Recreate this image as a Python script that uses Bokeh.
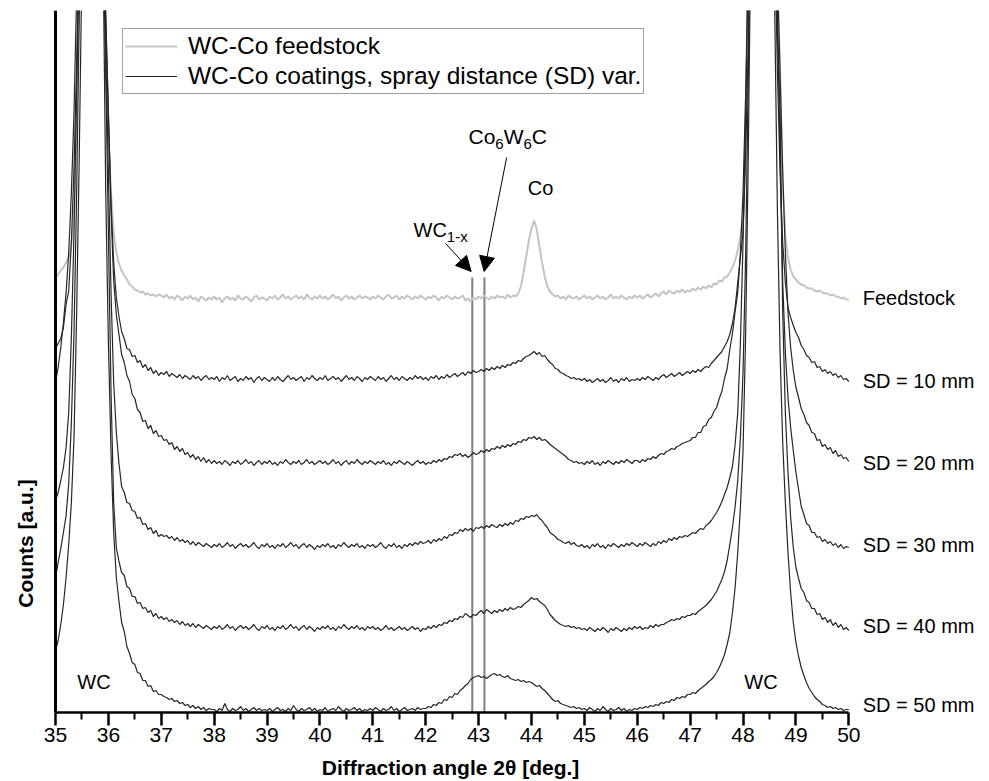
import numpy as np
from math import pi
from bokeh.plotting import figure
from bokeh.models import (Range1d, LinearAxis, FixedTicker, Label, Arrow, NormalHead,
                          Legend, LegendItem)
from bokeh.core.properties import value
from bokeh.embed import file_html
from bokeh.resources import INLINE

# ---------------- data ----------------
two_theta = np.round(np.arange(35.0, 50.0001, 0.05), 2)   # 301 scan steps

feedstock = [
    435, 438, 442, 445, 450, 455, 466, 500, 610, 720, 900, 1300, 2000, 3000, 3200, 2500, 1500, 1000, 780, 660,
    575, 520, 480, 460, 449, 442, 437, 433, 428, 426, 423, 422, 420, 421, 418, 419, 417, 418, 416, 418,
    417, 415, 418, 414, 416, 413, 417, 415, 412, 416, 414, 417, 413, 415, 411, 416, 414, 412, 415, 413,
    416, 413, 415, 410, 414, 416, 413, 415, 412, 417, 414, 413, 416, 414, 411, 415, 417, 413, 415, 414,
    412, 416, 414, 417, 413, 415, 418, 414, 416, 413, 415, 417, 414, 416, 413, 418, 415, 413, 416, 414,
    417, 414, 416, 413, 415, 418, 414, 416, 412, 415, 417, 414, 416, 413, 415, 417, 414, 416, 415, 413,
    416, 414, 417, 415, 413, 416, 418, 414, 415, 417, 413, 416, 414, 417, 415, 413, 416, 414, 417, 415,
    413, 416, 414, 417, 415, 412, 416, 414, 417, 415, 413, 416, 414, 415, 417, 412, 414, 411, 415, 413,
    416, 414, 417, 415, 413, 416, 414, 417, 415, 416, 414, 418, 415, 417, 416, 419, 426, 440, 456, 472,
    484, 492, 483, 466, 450, 436, 426, 421, 418, 416, 417, 414, 416, 413, 417, 415, 414, 416, 413, 415,
    417, 414, 416, 413, 415, 417, 414, 416, 413, 415, 418, 414, 416, 414, 417, 415, 413, 416, 414, 417,
    415, 417, 414, 416, 418, 415, 417, 419, 416, 419, 421, 418, 422, 420, 419, 422, 420, 423, 420, 422,
    421, 424, 422, 425, 423, 426, 424, 427, 425, 429, 428, 432, 431, 435, 436, 440, 445, 452, 462, 476,
    495, 560, 690, 880, 1300, 2000, 2800, 3200, 2800, 2000, 1400, 1000, 820, 730, 640, 530, 475, 455, 443, 436,
    433, 430, 428, 427, 425, 424, 424, 422, 421, 422, 420, 419, 419, 417, 418, 416, 416, 414, 415, 413,
    413]

sd10 = [
    364, 369, 374, 385, 408, 422, 470, 545, 650, 790, 1000, 1500, 2300, 3000, 3100, 2600, 1700, 1100, 800, 690,
    600, 510, 450, 415, 396, 381, 374, 364, 363, 356, 357, 350, 352, 345, 348, 342, 345, 339, 342, 337,
    340, 338, 341, 336, 339, 337, 335, 338, 334, 337, 335, 333, 337, 334, 336, 332, 335, 337, 333, 335,
    333, 336, 331, 335, 333, 337, 332, 334, 336, 331, 334, 332, 336, 333, 335, 330, 334, 336, 332, 335,
    333, 331, 335, 332, 336, 333, 331, 334, 337, 333, 335, 332, 334, 336, 331, 335, 333, 337, 334, 332,
    335, 333, 337, 332, 334, 336, 333, 335, 331, 334, 337, 333, 335, 332, 336, 334, 331, 335, 333, 336,
    334, 332, 336, 333, 335, 331, 334, 337, 333, 335, 332, 336, 334, 332, 335, 333, 337, 334, 336, 333,
    335, 332, 336, 334, 337, 333, 336, 334, 338, 335, 337, 339, 336, 338, 340, 337, 341, 339, 342, 340,
    341, 343, 341, 344, 342, 345, 343, 346, 344, 347, 345, 348, 347, 350, 349, 352, 351, 354, 356, 357,
    359, 361, 358, 360, 356, 357, 353, 350, 348, 344, 343, 340, 339, 337, 336, 334, 335, 333, 334, 332,
    334, 331, 333, 330, 332, 334, 331, 333, 330, 332, 335, 331, 333, 330, 334, 332, 335, 331, 333, 332,
    334, 332, 335, 333, 336, 334, 332, 335, 333, 336, 338, 335, 337, 339, 336, 338, 340, 337, 339, 341,
    339, 342, 340, 343, 341, 344, 346, 345, 349, 352, 355, 358, 361, 366, 371, 378, 389, 405, 430, 455,
    480, 560, 670, 820, 1100, 1700, 2500, 3100, 3000, 2200, 1500, 1000, 780, 640, 540, 470, 430, 405, 395, 387,
    380, 375, 367, 363, 357, 355, 350, 351, 345, 346, 341, 343, 339, 341, 337, 339, 335, 337, 333, 334,
    331]

sd20 = [
    330, 345, 365, 390, 420, 460, 520, 600, 720, 900, 1200, 1800, 2600, 3100, 3000, 2400, 1600, 1100, 820, 700,
    600, 500, 432, 398, 378, 358, 350, 337, 331, 318, 314, 303, 300, 291, 292, 284, 287, 279, 282, 276,
    277, 272, 273, 268, 270, 263, 266, 261, 264, 258, 260, 255, 258, 253, 256, 251, 255, 250, 253, 249,
    252, 249, 251, 248, 252, 250, 247, 251, 249, 252, 248, 250, 253, 249, 251, 247, 250, 252, 248, 251,
    249, 252, 248, 250, 247, 251, 249, 253, 250, 248, 251, 249, 252, 248, 250, 253, 249, 251, 248, 250,
    252, 249, 251, 248, 250, 253, 249, 251, 247, 250, 252, 248, 251, 249, 253, 250, 248, 251, 249, 252,
    250, 248, 251, 249, 252, 248, 250, 247, 251, 249, 252, 250, 248, 251, 249, 247, 250, 252, 249, 251,
    248, 250, 249, 252, 250, 253, 251, 254, 253, 256, 255, 258, 257, 259, 256, 258, 255, 257, 260, 258,
    259, 262, 260, 263, 261, 264, 263, 266, 264, 267, 265, 268, 266, 269, 268, 271, 270, 273, 272, 275,
    274, 276, 273, 275, 272, 273, 271, 268, 266, 264, 262, 260, 258, 256, 253, 252, 250, 251, 249, 250,
    248, 251, 249, 252, 248, 250, 247, 251, 249, 252, 250, 248, 251, 249, 252, 250, 253, 251, 249, 252,
    252, 250, 253, 251, 254, 253, 256, 254, 257, 259, 258, 261, 262, 264, 263, 266, 267, 269, 270, 271,
    272, 275, 275, 280, 280, 286, 287, 293, 295, 301, 305, 314, 321, 334, 344, 363, 379, 401, 420, 460,
    520, 620, 760, 1000, 1500, 2300, 3000, 3200, 2800, 2000, 1400, 1000, 850, 740, 640, 540, 460, 400, 365, 342,
    325, 315, 304, 298, 290, 287, 280, 279, 272, 273, 266, 268, 263, 265, 259, 262, 256, 258, 254, 255,
    251]

sd30 = [
    212, 220, 232, 245, 265, 300, 375, 480, 620, 760, 1000, 1500, 2300, 3000, 3100, 2500, 1600, 1050, 780, 660,
    540, 420, 330, 280, 249, 226, 220, 210, 209, 202, 201, 194, 195, 188, 189, 183, 185, 179, 182, 176,
    178, 176, 177, 174, 176, 172, 175, 171, 173, 170, 172, 168, 171, 167, 170, 168, 166, 169, 167, 165,
    168, 166, 169, 165, 167, 170, 166, 168, 164, 167, 169, 166, 168, 165, 167, 170, 166, 164, 168, 166,
    169, 165, 167, 164, 168, 166, 169, 165, 167, 170, 166, 168, 164, 167, 169, 165, 168, 166, 163, 167,
    165, 168, 166, 169, 165, 167, 164, 168, 166, 170, 167, 165, 168, 166, 169, 165, 167, 164, 168, 166,
    168, 165, 167, 170, 166, 164, 168, 166, 169, 165, 167, 164, 168, 166, 169, 167, 170, 168, 171, 169,
    170, 172, 169, 173, 171, 174, 172, 176, 174, 178, 177, 180, 179, 183, 181, 184, 182, 184, 181, 185,
    184, 186, 184, 187, 185, 188, 186, 185, 188, 186, 189, 187, 190, 188, 192, 191, 194, 193, 196, 195,
    197, 196, 198, 194, 192, 188, 185, 180, 178, 176, 173, 172, 170, 169, 171, 168, 170, 167, 166, 168,
    165, 167, 164, 168, 166, 169, 165, 167, 164, 168, 166, 169, 167, 165, 168, 166, 169, 167, 170, 168,
    166, 169, 167, 170, 168, 166, 169, 167, 171, 169, 172, 170, 174, 172, 175, 173, 176, 175, 177, 176,
    178, 180, 179, 182, 184, 183, 187, 189, 192, 196, 200, 205, 211, 218, 225, 235, 246, 268, 300, 370,
    470, 600, 760, 1000, 1500, 2300, 3000, 3200, 2800, 2000, 1400, 1000, 800, 700, 560, 430, 360, 315, 285, 262,
    240, 223, 206, 198, 189, 187, 180, 180, 175, 176, 171, 173, 169, 171, 167, 169, 165, 168, 164, 166,
    165]

sd40 = [
    135, 150, 164, 180, 197, 229, 290, 380, 520, 700, 950, 1400, 2200, 3000, 3100, 2500, 1600, 1050, 780, 640,
    480, 320, 210, 165, 151, 140, 137, 126, 124, 116, 116, 109, 110, 104, 105, 100, 102, 96, 99, 94,
    96, 93, 95, 91, 93, 90, 92, 88, 91, 87, 89, 86, 89, 85, 88, 86, 84, 87, 85, 83,
    86, 84, 87, 83, 85, 88, 84, 86, 82, 85, 87, 84, 86, 83, 85, 88, 84, 82, 86, 84,
    87, 83, 85, 82, 86, 84, 87, 83, 85, 88, 84, 86, 82, 85, 87, 83, 86, 84, 81, 85,
    83, 86, 84, 87, 83, 85, 82, 86, 84, 88, 85, 83, 86, 84, 87, 83, 85, 82, 86, 84,
    86, 83, 85, 82, 84, 87, 83, 85, 82, 84, 86, 83, 85, 82, 84, 86, 83, 85, 81, 84,
    83, 86, 84, 87, 85, 88, 87, 90, 89, 92, 91, 94, 93, 96, 95, 99, 97, 95, 98, 97,
    100, 102, 99, 103, 101, 99, 102, 100, 103, 101, 104, 102, 105, 103, 104, 106, 105, 108, 110, 112,
    115, 113, 114, 111, 109, 107, 103, 98, 95, 92, 90, 88, 87, 86, 87, 85, 86, 84, 85, 83,
    84, 82, 85, 83, 81, 84, 82, 85, 83, 80, 84, 82, 85, 83, 81, 84, 82, 85, 83, 86,
    84, 86, 83, 85, 84, 87, 85, 88, 86, 88, 88, 90, 91, 93, 92, 94, 93, 96, 95, 97,
    97, 99, 98, 101, 103, 105, 107, 110, 113, 117, 121, 127, 133, 141, 152, 168, 185, 206, 232, 275,
    340, 460, 640, 900, 1400, 2200, 3000, 3200, 2800, 2000, 1400, 950, 760, 680, 600, 400, 300, 240, 195, 165,
    145, 134, 124, 120, 112, 110, 104, 104, 98, 99, 93, 95, 90, 93, 87, 90, 85, 88, 83, 85,
    82]

sd50 = [
    62, 72, 88, 108, 135, 168, 210, 275, 400, 560, 750, 1100, 1800, 2800, 3100, 2600, 1700, 1100, 760, 520,
    370, 260, 180, 135, 111, 90, 81, 66, 59, 50, 48, 40, 39, 32, 32, 26, 27, 21, 22, 18,
    18, 16, 15, 13, 14, 11, 12, 9, 10, 7, 8, 5, 7, 4, 6, 3, 5, 2, 4, 3,
    3, 1, 4, 2, 9, 3, 1, 4, 2, 3, 6, 2, 4, 1, 3, 5, 2, 4, 2, 3,
    2, 4, 1, 3, 5, 2, 3, 1, 4, 2, 7, 3, 1, 4, 2, 3, 5, 2, 4, 1,
    3, 2, 5, 1, 3, 4, 2, 6, 3, 1, 4, 2, 3, 5, 2, 4, 1, 3, 2, 4,
    2, 5, 3, 1, 4, 2, 3, 6, 2, 4, 1, 3, 5, 2, 3, 4, 2, 5, 3, 4,
    4, 6, 5, 8, 7, 10, 9, 13, 12, 16, 15, 19, 18, 22, 24, 27, 29, 33, 35, 36,
    37, 35, 36, 34, 36, 38, 39, 37, 38, 36, 35, 37, 34, 33, 32, 33, 31, 32, 30, 31,
    30, 28, 26, 27, 24, 22, 19, 16, 13, 11, 12, 9, 8, 7, 6, 5, 6, 4, 5, 3,
    4, 2, 5, 3, 1, 4, 2, 6, 3, 1, 4, 2, 3, 5, 2, 4, 1, 3, 2, 4,
    3, 5, 4, 6, 5, 7, 6, 8, 7, 10, 9, 11, 10, 13, 12, 15, 14, 16, 15, 18,
    18, 20, 19, 22, 24, 26, 28, 31, 33, 36, 40, 45, 51, 58, 68, 80, 100, 125, 160, 205,
    262, 380, 560, 800, 1300, 2100, 2900, 3200, 2800, 2000, 1300, 900, 700, 500, 360, 270, 210, 160, 120, 90,
    70, 56, 45, 37, 30, 24, 20, 16, 13, 11, 8, 7, 5, 6, 4, 5, 3, 4, 2, 3,
    3]

series_labels = ["Feedstock", "SD = 10 mm", "SD = 20 mm", "SD = 30 mm", "SD = 40 mm", "SD = 50 mm"]
legend_labels = ["WC-Co feedstock", "WC-Co coatings, spray distance (SD) var."]
phase_marks = [42.88, 43.11]          # WC1-x and Co6W6C positions
x_ticks = list(range(35, 51))
x_minor = [35.5, 36.5, 37.5, 38.5, 39.5, 40.5, 41.5, 42.5, 43.5, 44.5, 45.5, 46.5, 47.5, 48.5, 49.5]

FONT = "Liberation Sans"
GRAY = "#c4c4c4"
DARK = "#262626"

# ---------------- figure ----------------
# the frame covers the whole canvas below y=10; the axes are pinned at data positions
p = figure(width=989, height=781, output_backend="svg", toolbar_location=None,
           x_range=Range1d(33.960, 52.660), y_range=Range1d(-69, 702),
           x_axis_location=None, y_axis_location=None,
           min_border_left=0, min_border_right=0, min_border_top=10, min_border_bottom=0)
p.outline_line_color = None
p.background_fill_color = "white"
p.border_fill_color = "white"
p.grid.visible = False

xaxis = LinearAxis(ticker=FixedTicker(ticks=x_ticks, minor_ticks=x_minor), bounds=(35, 50),
                   fixed_location=0,
                   axis_line_width=2.5, axis_line_color="black",
                   major_tick_line_width=2.5, major_tick_line_color="black",
                   major_tick_out=13, major_tick_in=0,
                   minor_tick_line_width=2, minor_tick_line_color="black",
                   minor_tick_out=7, minor_tick_in=0,
                   major_label_text_font=FONT, major_label_text_font_size="21px",
                   major_label_text_color="black", major_label_standoff=2)
p.add_layout(xaxis, "below")

yaxis = LinearAxis(ticker=FixedTicker(ticks=[]), bounds=(0, 702), fixed_location=35,
                   axis_line_width=3, axis_line_color="black",
                   major_tick_out=0, major_tick_in=0, minor_tick_out=0, minor_tick_in=0,
                   major_label_text_font_size="0px", major_label_standoff=0)
p.add_layout(yaxis, "left")

# phase marker lines
p.segment(x0=phase_marks, y0=[0, 0], x1=phase_marks, y1=[435, 435],
          line_color="#808080", line_width=2)

# traces
r_feed = p.line(two_theta, feedstock, line_color=GRAY, line_width=2)
coat_renderers = []
for ys in [sd10, sd20, sd30, sd40, sd50]:
    coat_renderers.append(p.line(two_theta, ys, line_color=DARK, line_width=1.2))

# right-hand series labels
p.text(x=[50.264] * 6, y=[415, 332, 250, 168, 87, 8], text=series_labels,
       text_font=value(FONT), text_font_size="20px", text_color="black",
       text_align="left", text_baseline="middle")

# annotations
def lbl(x, y, txt, size, align="left", xo=0, yo=0, bold=False, angle=0):
    p.add_layout(Label(x=x, y=y, x_offset=xo, y_offset=yo, text=txt, text_font=FONT,
                       text_font_size=f"{size}px", text_align=align, angle=angle,
                       text_baseline="middle", text_color="black",
                       text_font_style="bold" if bold else "normal"))

W = {"C": .722, "o": .556, "W": .944, "6": .556, "1": .556, "-": .333, "x": .5}
def adv(s, size):
    return sum(W[c] for c in s) * size

def subscripted(x, y, parts):
    off = 0.0
    for txt, size, dy in parts:
        lbl(x, y, txt, size, xo=off, yo=dy)
        off += adv(txt, size)

subscripted(42.809, 576, [("Co", 21, 0), ("6", 15, -7), ("W", 21, 0), ("6", 15, -7), ("C", 21, 0)])
subscripted(41.769, 483, [("WC", 20, 0), ("1-x", 15, -7)])
lbl(44.17, 525, "Co", 20, align="center")
lbl(35.728, 31, "WC", 20, align="center")
lbl(48.339, 31, "WC", 20, align="center")
lbl(35, 169, "Counts [a.u.]", 21, align="center", xo=-30, bold=True, angle=pi / 2)
lbl(42.469, -54.5, "Diffraction angle 2\u03b8 [deg.]", 21, align="center", bold=True)

p.add_layout(Arrow(end=NormalHead(size=15, fill_color="black", line_color="black"),
                   x_start=42.377, y_start=469, x_end=42.859, y_end=441,
                   line_color="black", line_width=1))
p.add_layout(Arrow(end=NormalHead(size=15, fill_color="black", line_color="black"),
                   x_start=43.530, y_start=555, x_end=43.105, y_end=441,
                   line_color="black", line_width=1))

legend = Legend(items=[LegendItem(label=legend_labels[0], renderers=[r_feed]),
                       LegendItem(label=legend_labels[1], renderers=[coat_renderers[0]])],
                location=(122, 687), margin=0, padding=2, spacing=0,
                glyph_width=52, glyph_height=30, label_height=30, label_standoff=11,
                label_text_font=FONT, label_text_font_size="24.5px", label_text_color="black",
                border_line_color="#404040", border_line_width=1,
                background_fill_color="white", background_fill_alpha=1)
p.add_layout(legend)

open("out.html", "w").write(file_html(p, INLINE))
